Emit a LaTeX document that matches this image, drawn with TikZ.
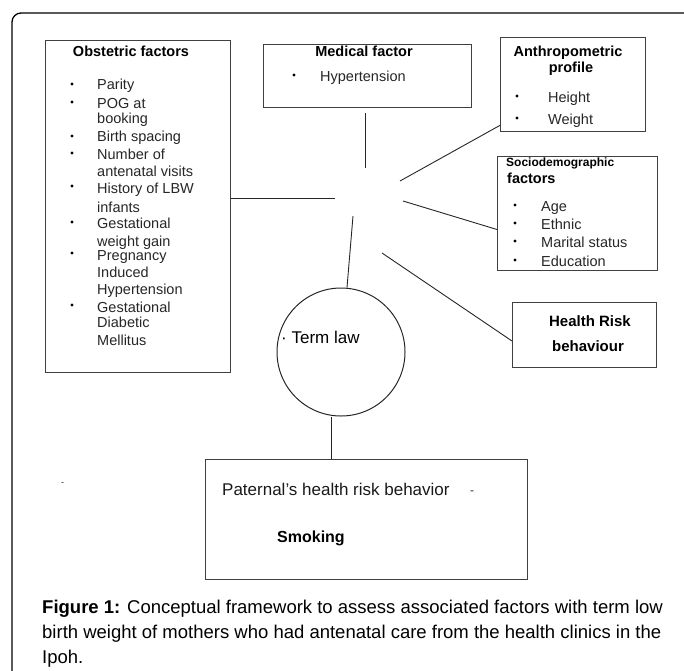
\documentclass[tikz,border=0pt]{standalone}
\usepackage{fontspec}
\setmainfont{Liberation Sans}
\usepackage{tikz}
\usetikzlibrary{positioning}
\usetikzlibrary{calc}

\begin{document}
\begin{tikzpicture}
        [
            x=1pt, y=-1pt,
            box/.style={draw=black!75, line width=1pt, inner sep=0pt, anchor=north west},
            spoke/.style={draw=black!85, line width=0.9pt},
            head/.style={inner sep=0pt, anchor=base, font=\bfseries\fontsize{14.5}{16}\selectfont},
            item/.style={inner sep=0pt, anchor=base west, text=black!85, font=\fontsize{14.5}{16}\selectfont},
            bullet/.style={circle, fill=black, inner sep=0pt, minimum size=3.4pt},
            capline/.style={inner sep=0pt, anchor=base west, font=\fontsize{18.5}{22}\selectfont},
        ]
        \useasboundingbox (0,0) rectangle (684,670);
        \begin{scope}
            \clip (0,0) rectangle (684,670);
            \draw[line width=1.3pt, rounded corners=9pt] (12,700) -- (12,13) -- (700,13);
        \end{scope}

        \node[box, minimum width=185pt, minimum height=332pt] (obstetric) at (45,40) {};
        \node[head] (obstetric-h) at (131,56) {Obstetric factors};
        \foreach \y [count=\i] in {84,102,136,153,186,222,253,305}
            \node[bullet] (ob-b\i) at (72,\y) {};
        \foreach \y/\t [count=\i] in {89/Parity, 108/POG at, 123/booking, 141/Birth spacing,
                159/Number of, 176/antenatal visits, 193/History of LBW, 212/infants,
                228/Gestational, 246/weight gain, 260/Pregnancy, 277/Induced,
                294/Hypertension, 312/Gestational, 327/Diabetic, 345/Mellitus}
            \node[item] (ob-t\i) at (97,\y) {\t};

        \node[box, minimum width=208pt, minimum height=63pt] (medical) at (263,44) {};
        \node[head] (medical-h) at (364,56) {Medical factor};
        \node[bullet] (med-b1) at (294,75) {};
        \node[item] (med-t1) at (320,81) {Hypertension};

        \node[box, minimum width=145pt, minimum height=94pt] (anthro) at (500,37) {};
        \node[head] (anthro-h1) at (568,56) {Anthropometric};
        \node[head] (anthro-h2) at (571,72) {profile};
        \foreach \y/\t [count=\i] in {96/Height, 118/Weight}
        {
            \node[bullet] (an-b\i) at (517,\y) {};
            \node[item] (an-t\i) at (548,\y+6) {\t};
        }

        \node[box, minimum width=160pt, minimum height=114pt] (socio) at (497,156) {};
        \node[head, anchor=base west, font=\bfseries\fontsize{12}{14}\selectfont] (socio-h1) at (506,166) {Sociodemographic};
        \node[head, anchor=base west] (socio-h2) at (507,183) {factors};
        \foreach \y/\t [count=\i] in {205/Age, 223/Ethnic, 241/Marital status, 260/Education}
        {
            \node[bullet] (so-b\i) at (515,\y) {};
            \node[item] (so-t\i) at (541,\y+6) {\t};
        }

        \node[box, minimum width=144pt, minimum height=65pt] (health) at (512,302) {};
        \node[head, font=\bfseries\fontsize{15}{17}\selectfont] (health-h1) at (590,326) {Health Risk};
        \node[head, font=\bfseries\fontsize{15}{17}\selectfont] (health-h2) at (588,351) {behaviour};

        \node[circle, draw=black!85, line width=1pt, minimum size=128pt, inner sep=0pt] (termlaw) at (341,352) {};
        \node[item, text=black, font=\fontsize{17}{19}\selectfont] (termlaw-t) at (281,343) {· Term law};

        \node[box, minimum width=322pt, minimum height=120pt] (paternal) at (205,459) {};
        \node[item, text=black!90, font=\fontsize{17}{19}\selectfont] (paternal-t) at (222,495) {Paternal's health risk behavior};
        \node[item, font=\fontsize{12}{14}\selectfont] (paternal-d) at (470,494) {-};
        \node[item, text=black, font=\bfseries\fontsize{16}{18}\selectfont] (smoking) at (277,542) {Smoking};

        \node[item, font=\fontsize{9}{10}\selectfont] (speck) at (61,485) {-};

        \coordinate (hubN) at (365,168);
        \coordinate (hubW) at (335,198);
        \coordinate (hubNE) at (400,181);
        \coordinate (hubE) at (403,201);
        \coordinate (hubSE) at (382,253);
        \coordinate (hubS) at (353,216);

        \draw[spoke, shorten <=5pt] (medical.south -| hubN) -- (hubN);
        \draw[spoke] (obstetric.east |- hubW) -- (hubW);
        \draw[spoke] ($(anthro.south west)!0.07!(anthro.north west)$) -- (hubNE);
        \draw[spoke] ($(socio.west)+(0,16)$) -- (hubE);
        \draw[spoke] ($(health.west)+(0,6)$) -- (hubSE);
        \draw[spoke] ($(termlaw.north)+(6,0)$) -- (hubS);
        \draw[spoke] ([xshift=-10pt]termlaw.south) -- ([xshift=-10pt]termlaw.south |- paternal.north);

        \node[capline] (cap1) at (42,613) {\textbf{Figure 1:} Conceptual framework to assess associated factors with term low};
        \node[capline] (cap2) at (42,638) {birth weight of mothers who had antenatal care from the health clinics in the};
        \node[capline] (cap3) at (42,663) {Ipoh.};
    \end{tikzpicture}
\end{document}
